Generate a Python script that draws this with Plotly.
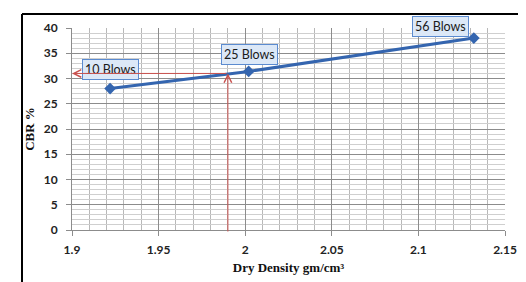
import plotly.graph_objects as go

dry_density = [1.922, 2.002, 2.132]
cbr = [28.0, 31.4, 38.0]
labels = ["10 Blows", "25 Blows", "56 Blows"]
label_shift_x = [0, 1, -33]
label_shift_y = [19, 17, 12]

design_density = 1.99
design_cbr = 31.0

x_ticks = [1.9, 1.95, 2.0, 2.05, 2.1, 2.15]
x_tick_text = ["1.9", "1.95", "2", "2.05", "2.1", "2.15"]
y_ticks = [0, 5, 10, 15, 20, 25, 30, 35, 40]

W, H = 526, 282
ml, mr, mt, mb = 64, 29, 20, 60
pw, ph = W - ml - mr, H - mt - mb

fig = go.Figure()
fig.add_trace(go.Scatter(
    x=dry_density, y=cbr, mode="lines+markers",
    line=dict(color="#3465AF", width=3),
    marker=dict(symbol="diamond", size=9, color="#3465AF"),
    hoverinfo="skip", showlegend=False, cliponaxis=False,
))

annotations = []
for xv, yv, t, sx, sy in zip(dry_density, cbr, labels, label_shift_x, label_shift_y):
    annotations.append(dict(
        x=xv, y=yv, xref="x", yref="y", text=t, showarrow=False,
        xshift=sx, yshift=sy,
        font=dict(family="Lato", size=12.5, color="#1a1a1a"),
        bgcolor="#DCE8F7", bordercolor="#5B8BD0", borderwidth=1, borderpad=2,
    ))

# red design arrows
annotations.append(dict(
    x=1.9, y=design_cbr, ax=design_density, ay=design_cbr,
    xref="x", yref="y", axref="x", ayref="y", text="",
    showarrow=True, arrowhead=5, arrowsize=1.5, arrowwidth=1, arrowcolor="#C8504D",
))
annotations.append(dict(
    x=design_density, y=design_cbr, ax=design_density, ay=-0.6,
    xref="x", yref="y", axref="x", ayref="y", text="",
    showarrow=True, arrowhead=5, arrowsize=1.5, arrowwidth=1, arrowcolor="#C8504D",
))

# outer frame
x0 = (14 - ml) / pw
x1 = (520 - ml) / pw
y1 = (H - mb - 6) / ph
y0 = (H - mb - 290) / ph
shapes = [
    dict(type="line", xref="paper", yref="paper", x0=x0, x1=x0, y0=y0, y1=y1,
         line=dict(color="black", width=2), layer="below"),
    dict(type="line", xref="paper", yref="paper", x0=x1, x1=x1, y0=y0, y1=y1,
         line=dict(color="black", width=3), layer="below"),
    dict(type="line", xref="paper", yref="paper", x0=x0, x1=x1, y0=y1, y1=y1,
         line=dict(color="black", width=2), layer="below"),
]

fig.update_layout(
    width=W, height=H,
    margin=dict(l=ml, r=mr, t=mt, b=mb, autoexpand=False),
    paper_bgcolor="white", plot_bgcolor="white",
    annotations=annotations, shapes=shapes,
    xaxis=dict(
        range=[1.9, 2.15], tickvals=x_ticks, ticktext=x_tick_text,
        showgrid=True, gridcolor="#8C8C8C", gridwidth=1,
        minor=dict(dtick=0.01, tick0=1.9, showgrid=True, gridcolor="#B8B8B8", gridwidth=1),
        showline=True, linecolor="#8C8C8C", linewidth=1,
        ticks="outside", ticklen=5, tickcolor="#8C8C8C",
        tickfont=dict(family="Lato", size=12, color="#222", weight="bold"),
        ticklabelstandoff=4,
        zeroline=False, automargin=False,
        title=dict(text="Dry Density gm/cm³", standoff=6,
                   font=dict(family="Liberation Serif", size=13, color="#111", weight="bold")),
    ),
    yaxis=dict(
        range=[0, 40], tickvals=y_ticks,
        showgrid=True, gridcolor="#8C8C8C", gridwidth=1,
        minor=dict(dtick=1, tick0=0, showgrid=True, gridcolor="#CFCFCF", gridwidth=1),
        showline=True, linecolor="#8C8C8C", linewidth=1,
        ticks="outside", ticklen=5, tickcolor="#8C8C8C",
        tickfont=dict(family="Lato", size=12, color="#222", weight="bold"),
        ticklabelstandoff=6,
        zeroline=False, automargin=False,
        title=dict(text="CBR %", standoff=6,
                   font=dict(family="Liberation Serif", size=13, color="#111", weight="bold")),
    ),
)

fig.write_html("out.html")
